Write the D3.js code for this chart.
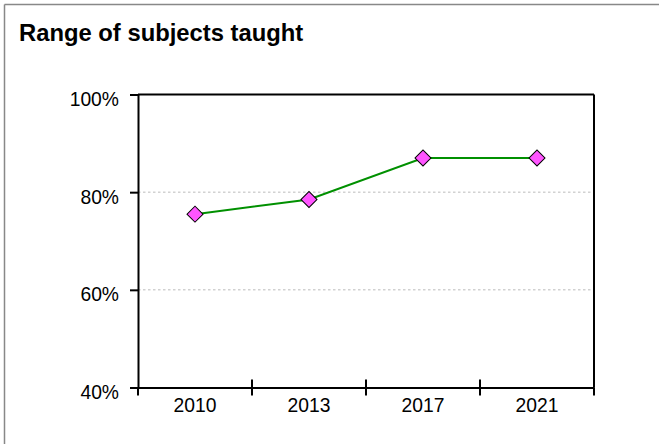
<!DOCTYPE html>
<html>
<head>
<meta charset="utf-8">
<script src="https://cdn.jsdelivr.net/npm/d3@7"></script>
<style>
  html, body { margin: 0; padding: 0; background: #fff; }
  svg { display: block; font-family: "Liberation Sans", Arial, sans-serif; }
</style>
</head>
<body>
<script>
const title = "Range of subjects taught";
const categories = ["2010", "2013", "2017", "2021"];
const values = [75.5, 78.5, 87, 87];
const yTicks = [40, 60, 80, 100];
const gridTicks = [60, 80];

const W = 659, H = 444;
const svg = d3.select("body").append("svg").attr("width", W).attr("height", H);

// outer border (top & left visible)
svg.append("line").attr("x1", 4.5).attr("x2", W).attr("y1", 4.5).attr("y2", 4.5).attr("stroke", "#888").attr("stroke-width", 1.5);
svg.append("line").attr("x1", 4.5).attr("x2", 4.5).attr("y1", 4.5).attr("y2", H).attr("stroke", "#888").attr("stroke-width", 1.5);

svg.append("text").attr("x", 19).attr("y", 41).attr("font-size", 23.8).attr("font-weight", "bold").attr("fill", "#000").text(title);

const L = 138, R = 594, T = 94.5, B = 387.5;
const x = d3.scaleBand().domain(categories).range([L, R]).padding(0);
const y = d3.scaleLinear().domain([40, 100]).range([B, T]);

// gridlines
svg.append("g").selectAll("line").data(gridTicks).join("line")
  .attr("x1", L).attr("x2", R).attr("y1", d => y(d)).attr("y2", d => y(d))
  .attr("stroke", "#bbb").attr("stroke-width", 1).attr("stroke-dasharray", "2.5,2.5");

// frame top & right
svg.append("line").attr("x1", L).attr("x2", R).attr("y1", T).attr("y2", T).attr("stroke", "#000").attr("stroke-width", 2);
svg.append("line").attr("x1", R).attr("x2", R).attr("y1", T).attr("y2", B).attr("stroke", "#000").attr("stroke-width", 2);

// y axis
const yAxis = svg.append("g").attr("transform", `translate(${L},0)`)
  .call(d3.axisLeft(y).tickValues(yTicks).tickFormat(d => d + "%").tickSize(8).tickSizeOuter(0).tickPadding(11));
yAxis.select(".domain").attr("stroke", "#000").attr("stroke-width", 2);
yAxis.selectAll(".tick line").attr("stroke", "#000").attr("stroke-width", 2);
yAxis.selectAll(".tick text").attr("font-size", 19.3).attr("fill", "#000").attr("font-family", "Liberation Sans, Arial, sans-serif").attr("dy", "0.72em").attr("y", -3);

// x axis
const xAxis = svg.append("g").attr("transform", `translate(0,${B})`)
  .call(d3.axisBottom(x).tickSize(0).tickSizeOuter(0).tickPadding(11));
xAxis.select(".domain").attr("stroke", "#000").attr("stroke-width", 2);
xAxis.selectAll(".tick text").attr("font-size", 19.3).attr("fill", "#000").attr("font-family", "Liberation Sans, Arial, sans-serif");
const bounds = categories.map(c => x(c)).concat([x(categories[categories.length - 1]) + x.bandwidth()]);
xAxis.selectAll("line.bt").data(bounds).join("line").attr("class", "bt")
  .attr("x1", d => d).attr("x2", d => d).attr("y2", 8)
  .attr("stroke", "#000").attr("stroke-width", 2)
  .attr("y1", (d, i) => (i === 0 || i === bounds.length - 1) ? 0 : -8);

// line
const cx = c => x(c) + x.bandwidth() / 2;
svg.append("path").datum(values)
  .attr("d", d3.line().x((d, i) => cx(categories[i])).y(d => y(d)))
  .attr("fill", "none").attr("stroke", "#009000").attr("stroke-width", 2);

// markers
svg.append("g").selectAll("path").data(values).join("path")
  .attr("d", d3.symbol(d3.symbolSquare, 128))
  .attr("transform", (d, i) => `translate(${cx(categories[i])},${y(d)}) rotate(45)`)
  .attr("fill", "#ff55ff").attr("stroke", "#000").attr("stroke-width", 1);
</script>
</body>
</html>
